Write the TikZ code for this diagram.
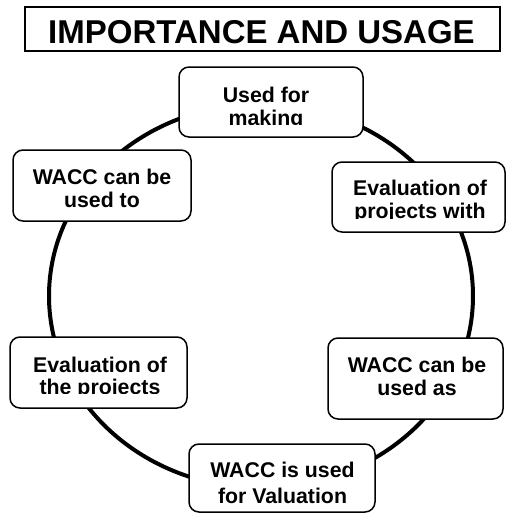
\documentclass[tikz,border=0pt]{standalone}
\usepackage{fontspec}
\setmainfont{Liberation Sans}
\begin{document}
\begin{tikzpicture}[x=1pt,y=-1pt,
  stepbox/.style={draw=black, fill=white, line width=1.5pt, rounded corners=10pt,
    inner sep=0pt},
  titlebox/.style={draw=black, fill=white, line width=1.7pt, inner sep=0pt,
    minimum width=475pt, minimum height=44pt},
  line/.style={anchor=base, inner sep=0pt,
    font=\fontsize{21.3}{25}\selectfont\bfseries},
  ring/.style={draw=black, line width=4pt}]
\useasboundingbox (0,0) rectangle (506,514);

% title
\node[titlebox] (title) at (262.5,29) {};
\node[anchor=base, inner sep=0pt, font=\fontsize{33}{38}\selectfont\bfseries]
  (titletext) at (261.5,43) {IMPORTANCE AND USAGE};

% the cycle behind the boxes
\draw[ring] (261,296) ellipse [x radius=212, y radius=192];

% boxes
\node[stepbox, minimum width=184pt, minimum height=70pt] (top) at (271,102) {};
\node[stepbox, minimum width=178pt, minimum height=71pt] (lu)  at (102,185.5) {};
\node[stepbox, minimum width=173pt, minimum height=70pt] (ru)  at (418.5,197) {};
\node[stepbox, minimum width=177pt, minimum height=71pt] (ll)  at (98.5,372.5) {};
\node[stepbox, minimum width=175pt, minimum height=81pt] (rl)  at (415.5,378.5) {};
\node[stepbox, minimum width=186pt, minimum height=68pt] (bot) at (282,478) {};

% box texts, cut off at the lower edge of their text areas
\begin{scope}
  \clip (180,68) rectangle (362,124);
  \node[line] (top1) at (266,102) {Used for};
  \node[line] (top2) at (266,125) {making};
\end{scope}
\begin{scope}
  \clip (14,151) rectangle (190,208);
  \node[line] (lu1) at (102,184) {WACC can be};
  \node[line] (lu2) at (102,207) {used to};
\end{scope}
\begin{scope}
  \clip (333,163) rectangle (504,218);
  \node[line] (ru1) at (420,195) {Evaluation of};
  \node[line] (ru2) at (420,218) {projects with};
\end{scope}
\begin{scope}
  \clip (11,338) rectangle (186,393.5);
  \node[line] (ll1) at (100,372) {Evaluation of};
  \node[line] (ll2) at (100,394) {the projects};
\end{scope}
\begin{scope}
  \clip (329,339) rectangle (502,405);
  \node[line] (rl1) at (417,372) {WACC can be};
  \node[line] (rl2) at (417,395) {used as};
\end{scope}
\node[line] (bot1) at (282.5,477) {WACC is used};
\node[line] (bot2) at (282.5,503) {for Valuation};
\end{tikzpicture}
\end{document}
